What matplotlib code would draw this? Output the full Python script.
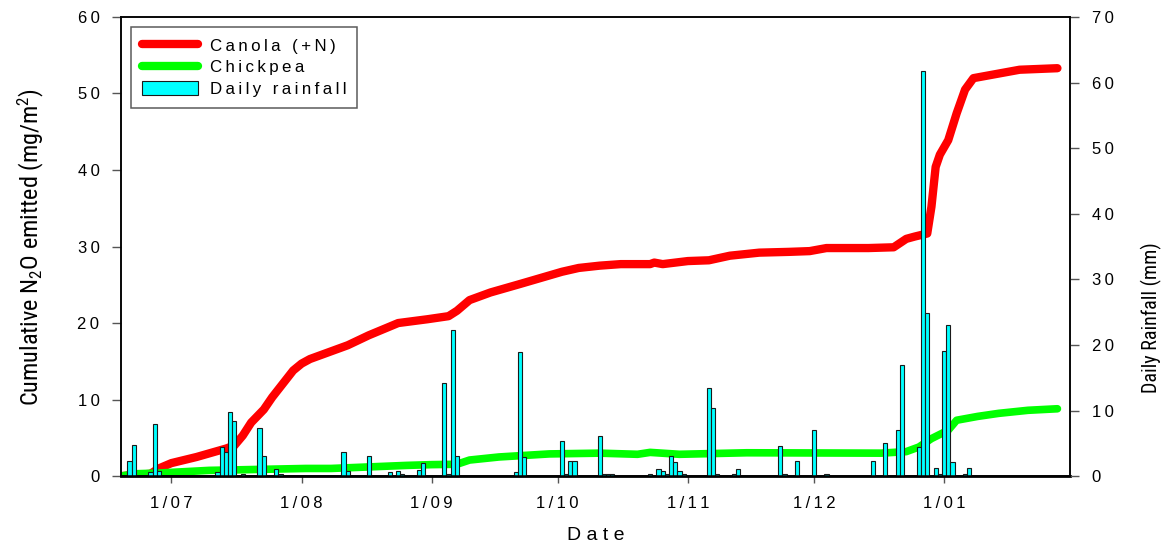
import numpy as np
import pandas as pd
import matplotlib
matplotlib.use("Agg")
from matplotlib import pyplot as plt
from matplotlib import dates as mdates
from matplotlib import font_manager
from matplotlib.ticker import FuncFormatter
from matplotlib.lines import Line2D
from matplotlib.patches import Patch

# cumulative N2O, canola (+N)
canola_dates = [
    "2006-06-19", "2006-06-26", "2006-06-28", "2006-07-01", "2006-07-07",
    "2006-07-14", "2006-07-16", "2006-07-18", "2006-07-20", "2006-07-23",
    "2006-07-25", "2006-07-28", "2006-07-30", "2006-08-01", "2006-08-03",
    "2006-08-07", "2006-08-12", "2006-08-17", "2006-08-24", "2006-08-31",
    "2006-09-05", "2006-09-07", "2006-09-10", "2006-09-15", "2006-09-22",
    "2006-09-27", "2006-10-02", "2006-10-06", "2006-10-11", "2006-10-16",
    "2006-10-23", "2006-10-24", "2006-10-26", "2006-11-01", "2006-11-06",
    "2006-11-11", "2006-11-18", "2006-11-25", "2006-11-30", "2006-12-04",
    "2006-12-14", "2006-12-20", "2006-12-23", "2006-12-25", "2006-12-28",
    "2006-12-29", "2006-12-30", "2006-12-31", "2007-01-02", "2007-01-04",
    "2007-01-06", "2007-01-08", "2007-01-11", "2007-01-14", "2007-01-19",
    "2007-01-28",
]
canola_n2o = [
    0.0, 0.3, 1.0, 1.7, 2.5,
    3.6, 4.0, 5.3, 7.0, 8.7,
    10.3, 12.4, 13.8, 14.7, 15.3,
    16.1, 17.1, 18.4, 20.0, 20.5,
    20.9, 21.6, 23.0, 24.0, 25.1,
    25.9, 26.7, 27.2, 27.5, 27.7,
    27.7, 27.9, 27.7, 28.1, 28.2,
    28.8, 29.2, 29.3, 29.4, 29.8,
    29.8, 29.9, 31.0, 31.3, 31.7,
    35.2, 40.4, 42.0, 43.9, 47.4,
    50.5, 52.0, 52.3, 52.6, 53.1,
    53.3,
]

# cumulative N2O, chickpea
chickpea_dates = [
    "2006-06-19", "2006-06-22", "2006-06-28", "2006-07-10", "2006-07-15",
    "2006-08-02", "2006-08-08", "2006-08-26", "2006-09-01", "2006-09-07",
    "2006-09-10", "2006-09-17", "2006-09-29", "2006-10-11", "2006-10-20",
    "2006-10-23", "2006-10-30", "2006-11-15", "2006-12-17", "2006-12-23",
    "2006-12-26", "2006-12-29", "2007-01-02", "2007-01-04", "2007-01-09",
    "2007-01-14", "2007-01-21", "2007-01-28",
]
chickpea_n2o = [
    0.0, 0.3, 0.4, 0.75, 0.8,
    1.0, 1.0, 1.4, 1.5, 1.55,
    2.1, 2.5, 2.9, 3.0, 2.85,
    3.1, 2.85, 3.05, 3.0, 3.2,
    3.8, 4.9, 6.0, 7.3, 7.8,
    8.2, 8.6, 8.8,
]

# daily rainfall (mm)
rain_dates = [
    "2006-06-21", "2006-06-22", "2006-06-26", "2006-06-27", "2006-06-28",
    "2006-07-12", "2006-07-13", "2006-07-14", "2006-07-15", "2006-07-16",
    "2006-07-18", "2006-07-22", "2006-07-23", "2006-07-26", "2006-07-27",
    "2006-08-11", "2006-08-12", "2006-08-17", "2006-08-22", "2006-08-24",
    "2006-08-25", "2006-08-29", "2006-08-30", "2006-09-04", "2006-09-05",
    "2006-09-06", "2006-09-07", "2006-09-21", "2006-09-22", "2006-09-23",
    "2006-10-02", "2006-10-03", "2006-10-04", "2006-10-05", "2006-10-11",
    "2006-10-12", "2006-10-13", "2006-10-14", "2006-10-23", "2006-10-25",
    "2006-10-26", "2006-10-27", "2006-10-28", "2006-10-29", "2006-10-30",
    "2006-10-31", "2006-11-06", "2006-11-07", "2006-11-08", "2006-11-12",
    "2006-11-13", "2006-11-23", "2006-11-24", "2006-11-27", "2006-12-01",
    "2006-12-04", "2006-12-15", "2006-12-18", "2006-12-21", "2006-12-22",
    "2006-12-26", "2006-12-27", "2006-12-28", "2006-12-30", "2006-12-31",
    "2007-01-01", "2007-01-02", "2007-01-03", "2007-01-06", "2007-01-07",
]
rain_mm = [
    2.3, 4.8, 0.6, 7.9, 0.8,
    0.6, 4.4, 3.6, 9.7, 8.4,
    0.25, 7.4, 3.1, 1.1, 0.25,
    3.6, 0.8, 3.1, 0.6, 0.8,
    0.25, 1.0, 2.0, 14.2, 0.25,
    22.3, 3.1, 0.6, 18.9, 2.85,
    5.4, 0.25, 2.3, 2.3, 6.1,
    0.25, 0.25, 0.25, 0.25, 1.1,
    0.8, 0.25, 3.1, 2.1, 0.8,
    0.25, 13.5, 10.4, 0.25, 0.25,
    1.1, 4.6, 0.25, 2.3, 7.1,
    0.25, 2.3, 5.1, 7.1, 17.0,
    4.4, 61.7, 24.9, 1.3, 0.25,
    19.1, 23.0, 2.1, 0.25, 1.3,
]

tick_dates = ["2006-07-01", "2006-08-01", "2006-09-01", "2006-10-01",
              "2006-11-01", "2006-12-01", "2007-01-01"]


def pick_font(names):
    for n in names:
        try:
            font_manager.findfont(n, fallback_to_default=False)
            return n
        except ValueError:
            continue
    return "DejaVu Sans"


def spaced(s, sep="\u2009"):
    # the original uses wide letter spacing
    return sep.join(s)


main_font = pick_font(["Liberation Sans", "Arial"])
narrow_font = pick_font(["Liberation Sans Narrow", "Roboto Condensed", main_font])

plt.rcParams["font.family"] = main_font
plt.rcParams["mathtext.fontset"] = "custom"
plt.rcParams["mathtext.rm"] = narrow_font
plt.rcParams["mathtext.it"] = narrow_font

canola_x = pd.to_datetime(canola_dates)
chick_x = pd.to_datetime(chickpea_dates)
rain_x = pd.to_datetime(rain_dates)

fig = plt.figure(figsize=(11.67, 5.46), dpi=100)
ax = fig.add_axes([0.1037, 0.128, 0.8132, 0.841])
ax2 = ax.twinx()

ax.plot(canola_x, canola_n2o, color="#ff0000", lw=6, solid_capstyle="round",
        solid_joinstyle="round")
ax.plot(chick_x, chickpea_n2o, color="#00ff00", lw=5.5, solid_capstyle="round",
        solid_joinstyle="round")
ax2.bar(rain_x, rain_mm, width=1.0, color="#00ffff", edgecolor="#1a1a1a",
        linewidth=0.8, align="center")

ax.set_xlim(pd.Timestamp("2006-06-19"), pd.Timestamp("2007-01-31"))
ax.set_ylim(0, 60)
ax2.set_ylim(0, 70)
ax.set_yticks(np.arange(0, 61, 10))
ax2.set_yticks(np.arange(0, 71, 10))
ax.set_xticks(pd.to_datetime(tick_dates))
ax.xaxis.set_major_formatter(
    FuncFormatter(lambda v, p: spaced(mdates.num2date(v).strftime("%-d/%m"))))
ax.yaxis.set_major_formatter(FuncFormatter(lambda v, p: spaced("%d" % v)))
ax2.yaxis.set_major_formatter(FuncFormatter(lambda v, p: spaced("%d" % v)))

for a in (ax, ax2):
    a.tick_params(direction="out", length=6.5, width=1, color="#555555",
                  labelsize=12, pad=9)
    for s in a.spines.values():
        s.set_linewidth(1.1)
ax.tick_params(axis="x", length=5, pad=9)
ax.spines["bottom"].set_linewidth(2)

ax.set_xlabel("D a t e", fontsize=14)
ax.xaxis.set_label_coords(0.5, -0.11)
ax.set_ylabel(r"Cumulative N$_2$O emitted (mg/m$^2$)", fontsize=17.5,
              family=narrow_font)
ax.yaxis.set_label_coords(-0.079, 0.5)
ax2.set_ylabel("Daily Rainfall (mm)", fontsize=14.5, family=narrow_font)
ax2.yaxis.set_label_coords(1.075, 0.345)

handles = [
    Line2D([], [], color="#ff0000", lw=6, solid_capstyle="round"),
    Line2D([], [], color="#00ff00", lw=6, solid_capstyle="round"),
    Patch(facecolor="#00ffff", edgecolor="#1a1a1a", linewidth=0.8),
]
labels = [spaced("Canola (+N)"), spaced("Chickpea"), spaced("Daily rainfall")]
leg = ax2.legend(handles, labels,
                 loc="upper left", bbox_to_anchor=(0.0105, 0.978),
                 borderaxespad=0, fontsize=12.2, frameon=True, fancybox=False,
                 handlelength=3.3, handleheight=0.9, borderpad=0.65,
                 labelspacing=0.32, handletextpad=0.7)
leg.get_frame().set_edgecolor("#333333")
leg.get_frame().set_linewidth(1.1)

fig.savefig("out.png", dpi=100)
